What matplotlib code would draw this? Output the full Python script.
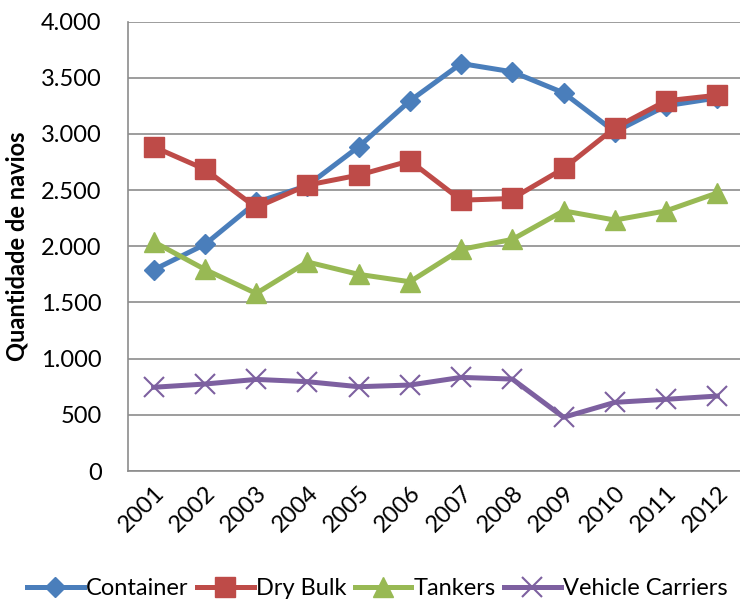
import matplotlib
matplotlib.use("Agg")
import matplotlib.pyplot as plt
from matplotlib.ticker import FuncFormatter

years = ["2001", "2002", "2003", "2004", "2005", "2006", "2007", "2008", "2009", "2010", "2011", "2012"]
container = [1790, 2016, 2390, 2540, 2885, 3294, 3626, 3552, 3365, 3018, 3250, 3320]
dry_bulk = [2885, 2685, 2345, 2544, 2633, 2760, 2410, 2425, 2692, 3054, 3294, 3344]
tankers = [2040, 1794, 1580, 1860, 1750, 1684, 1972, 2061, 2315, 2233, 2315, 2475]
vehicle = [745, 774, 815, 795, 750, 765, 833, 818, 478, 611, 638, 667]

plt.rcParams['font.family'] = ['Lato', 'DejaVu Sans']

fig = plt.figure(figsize=(7.4, 6.02), dpi=100)
ax = fig.add_axes([128/740, 1 - 471/602, (743 - 128)/740, 449.5/602])

x = list(range(len(years)))
lw = 3.6
ax.plot(x, container, color='#4A7EBB', lw=lw, marker='D', ms=10, label='Container', zorder=3)
ax.plot(x, dry_bulk, color='#BE4B48', lw=lw, marker='s', ms=14, label='Dry Bulk', zorder=4)
ax.plot(x, tankers, color='#98B954', lw=lw, marker='^', ms=15, label='Tankers', zorder=3)
ax.plot(x, vehicle, color='#7D60A0', lw=lw, marker='x', ms=14, mew=1.5, label='Vehicle Carriers', zorder=3)

ax.set_xlim(-0.5, len(years) - 0.5)
ax.set_ylim(0, 4000)
ax.set_yticks(range(0, 4001, 500))
ax.yaxis.set_major_formatter(FuncFormatter(lambda v, p: f"{int(v):,}".replace(",", ".")))
ax.set_xticks(x)
ax.set_xticklabels(years, rotation=45, ha='right', rotation_mode='anchor')
ax.tick_params(axis='both', labelsize=17, length=0, colors='#000000')
ax.tick_params(axis='y', pad=19)
ax.tick_params(axis='x', pad=8)
ax.grid(axis='y', color='#8C8C8C', lw=1.2)
ax.set_axisbelow(True)
for s in ['top', 'right']:
    ax.spines[s].set_visible(False)
for s in ['left', 'bottom']:
    ax.spines[s].set_color('#8C8C8C')
    ax.spines[s].set_linewidth(1.2)

ax.set_ylabel('Quantidade de navios', fontsize=17, fontweight='bold')
ax.yaxis.set_label_coords(-(128 - 29) / 615, 0.5)

fig.legend(loc='lower center', bbox_to_anchor=(0.51, -0.03), ncol=4, frameon=False,
           fontsize=17, handlelength=2.4, columnspacing=0.35, handletextpad=0.1)

fig.savefig('out.png', dpi=100)
